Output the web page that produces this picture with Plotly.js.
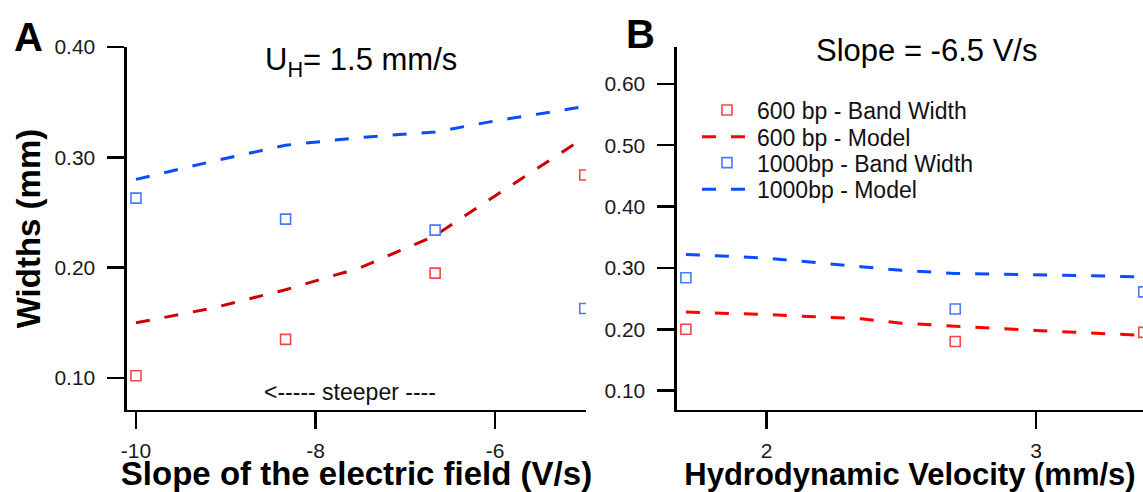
<!DOCTYPE html>
<html>
<head>
<meta charset="utf-8">
<script src="https://cdn.plot.ly/plotly-3.0.1.min.js"></script>
<style>html,body{margin:0;padding:0;background:#fff}#chart{width:1143px;height:492px}</style>
</head>
<body>
<div id="chart"></div>
<script>
// Panel A: widths vs slope of the electric field (U_H = 1.5 mm/s)
const slopeX = [-10, -8.333, -6.667, -5];
const slopeWidth600 = [0.102, 0.135, 0.195, 0.284];
const slopeWidth1000 = [0.263, 0.244, 0.234, 0.163];
const slopeModelX = [-10, -9.167, -8.333, -7.5, -6.667, -6, -5];
const slopeModel600 = [0.150, 0.163, 0.180, 0.200, 0.229, 0.265, 0.318];
const slopeModel1000 = [0.280, 0.296, 0.311, 0.318, 0.323, 0.333, 0.346];
const slopeTickVals = [-10, -8, -6];
const slopeTickText = ['-10', '-8', '-6'];
const widthTicksA = [0.1, 0.2, 0.3, 0.4];

// Panel B: widths vs hydrodynamic velocity (slope = -6.5 V/s)
const velX = [1.7, 2.7, 3.4];
const velWidth600 = [0.200, 0.180, 0.195];
const velWidth1000 = [0.284, 0.233, 0.261];
const velModelX = [1.7, 2.0, 2.35, 2.5, 2.7, 3.0, 3.4];
const velModel600 = [0.228, 0.224, 0.217, 0.210, 0.205, 0.198, 0.190];
const velModel1000 = [0.322, 0.316, 0.302, 0.296, 0.291, 0.289, 0.2855];
const velTickVals = [2, 3];
const widthTicksB = [0.1, 0.2, 0.3, 0.4, 0.5, 0.6];

const seriesNames = ['600 bp - Band Width', '600 bp - Model', '1000bp - Band Width', '1000bp - Model'];

const FONT = 'Liberation Sans, Arial, Helvetica, sans-serif';
const redSq = '#f04848', blueSq = '#4a78ff';
const redLineA = '#cc0000', redLineB = '#ff0000', blueLine = '#0a4cff';
const DASH = '14px,15px';

function sq(x, y, color, name, xa, ya, show, leg) {
  return {x, y, type: 'scatter', mode: 'markers', name, xaxis: xa, yaxis: ya, showlegend: show, legend: leg,
    marker: {symbol: 'square-open', size: 10, color, line: {width: 1.6, color}}, cliponaxis: true};
}
function ln(x, y, color, name, xa, ya, show, leg) {
  return {x, y, type: 'scatter', mode: 'lines', name, xaxis: xa, yaxis: ya, showlegend: show, legend: leg,
    line: {color, width: 3, dash: DASH}};
}

const data = [
  sq(velX, velWidth600, redSq, seriesNames[0], 'x2', 'y2', true, 'legend'),
  ln(velModelX, velModel600, redLineB, seriesNames[1], 'x2', 'y2', true, 'legend2'),
  sq(velX, velWidth1000, blueSq, seriesNames[2], 'x2', 'y2', true, 'legend3'),
  ln(velModelX, velModel1000, blueLine, seriesNames[3], 'x2', 'y2', true, 'legend4'),
  sq(slopeX, slopeWidth600, redSq, seriesNames[0], 'x', 'y', false),
  ln(slopeModelX, slopeModel600, redLineA, seriesNames[1], 'x', 'y', false),
  sq(slopeX, slopeWidth1000, blueSq, seriesNames[2], 'x', 'y', false),
  ln(slopeModelX, slopeModel1000, blueLine, seriesNames[3], 'x', 'y', false)
];

const axBase = {
  showgrid: false, zeroline: false, showline: true, linecolor: '#000', linewidth: 2.5,
  ticks: 'outside', ticklen: 17, tickwidth: 2.5, tickcolor: '#000',
  tickfont: {family: FONT, size: 21, color: '#1a1a1a'}, automargin: false
};

function legendAt(yPx) {
  return {x: 697 / 1143, y: 1 - yPx / 492, xanchor: 'left', yanchor: 'middle', bgcolor: 'rgba(0,0,0,0)',
    borderwidth: 0, font: {family: FONT, size: 23, color: '#111'}, itemwidth: 50};
}

const layout = {
  width: 1143, height: 492,
  margin: {l: 0, r: 0, t: 0, b: 0},
  paper_bgcolor: '#fff', plot_bgcolor: '#fff',
  font: {family: FONT, color: '#000'},
  showlegend: true,
  legend: legendAt(110),
  legend2: legendAt(136.7),
  legend3: legendAt(162.7),
  legend4: legendAt(189.3),
  xaxis: Object.assign({}, axBase, {domain: [0.1111, 0.5127], range: [-10.1, -4.986],
    tickmode: 'array', tickvals: slopeTickVals, ticktext: slopeTickText, ticklabelstandoff: 3, anchor: 'y',
    title: {text: 'Slope of the electric field (V/s)', font: {family: FONT, size: 33, color: '#000', weight: 'bold'}, standoff: 8}}),
  yaxis: Object.assign({}, axBase, {domain: [0.1667, 0.9045], range: [0.071, 0.40],
    tickmode: 'array', tickvals: widthTicksA, tickformat: '.2f', ticklabelstandoff: 8, anchor: 'x',
    title: {text: 'Widths (mm)', font: {family: FONT, size: 33, color: '#000', weight: 'bold'}, standoff: 4}}),
  xaxis2: Object.assign({}, axBase, {domain: [0.5923, 1], range: [1.667, 3.397],
    tickmode: 'array', tickvals: velTickVals, ticklabelstandoff: 3, anchor: 'y2',
    title: {text: 'Hydrodynamic Velocity (mm/s)', font: {family: FONT, size: 31, color: '#000', weight: 'bold'}, standoff: 8}}),
  yaxis2: Object.assign({}, axBase, {domain: [0.1667, 0.9045], range: [0.0685, 0.660],
    tickmode: 'array', tickvals: widthTicksB, tickformat: '.2f', ticklabelstandoff: 8, anchor: 'x2'}),
  annotations: [
    {text: '<b>A</b>', xref: 'paper', yref: 'paper', x: 0.0245, y: 0.925, xanchor: 'center', yanchor: 'middle',
      showarrow: false, font: {family: FONT, size: 40, color: '#000'}},
    {text: '<b>B</b>', xref: 'paper', yref: 'paper', x: 0.5605, y: 0.931, xanchor: 'center', yanchor: 'middle',
      showarrow: false, font: {family: FONT, size: 40, color: '#000'}},
    {text: 'U<sub>H</sub>= 1.5 mm/s', xref: 'x', yref: 'paper', x: -7.493, y: 0.875, xanchor: 'center', yanchor: 'middle',
      showarrow: false, font: {family: FONT, size: 31, color: '#000'}},
    {text: 'Slope = -6.5 V/s', xref: 'x2', yref: 'paper', x: 2.592, y: 0.898, xanchor: 'center', yanchor: 'middle',
      showarrow: false, font: {family: FONT, size: 31, color: '#000'}},
    {text: '<----- steeper ----', xref: 'x', yref: 'y', x: -7.62, y: 0.087, xanchor: 'center', yanchor: 'middle',
      showarrow: false, font: {family: FONT, size: 23, color: '#111'}}
  ]
};

Plotly.newPlot('chart', data, layout, {staticPlot: true, displayModeBar: false});
</script>
</body>
</html>
